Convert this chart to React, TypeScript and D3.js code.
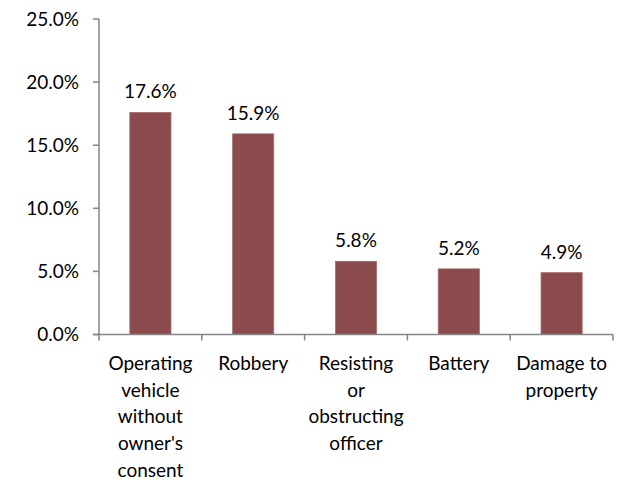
import { useEffect, useRef } from "react";
import * as d3 from "d3";

const categories = [
  "Operating\nvehicle\nwithout\nowner's\nconsent",
  "Robbery",
  "Resisting\nor\nobstructing\nofficer",
  "Battery",
  "Damage to\nproperty",
];
const values = [0.176, 0.159, 0.058, 0.052, 0.049];
const yTicks = [0, 0.05, 0.1, 0.15, 0.2, 0.25];

export default function App() {
  const svgRef = useRef<SVGSVGElement>(null);

  useEffect(() => {
    if (!svgRef.current) return;
    const svg = d3.select(svgRef.current);
    svg.selectAll("*").remove();

    const font = "Lato, 'Open Sans', sans-serif";
    const fontSize = "19px";
    const axisColor = "#868686";
    const left = 99;
    const right = 613;
    const top = 19;
    const bottom = 334.5;

    const x = d3
      .scaleBand<string>()
      .domain(categories)
      .range([left, right])
      .paddingInner(0.6)
      .paddingOuter(0.3);
    const step = x.step();

    const y = d3.scaleLinear().domain([0, 0.25]).range([bottom, top]);
    const fmt = d3.format(".1%");

    // y axis
    svg
      .append("line")
      .attr("x1", left)
      .attr("x2", left)
      .attr("y1", top)
      .attr("y2", bottom)
      .attr("stroke", axisColor)
      .attr("stroke-width", 1.5);

    yTicks.forEach((t) => {
      svg
        .append("line")
        .attr("x1", left - 6)
        .attr("x2", left)
        .attr("y1", y(t))
        .attr("y2", y(t))
        .attr("stroke", axisColor)
        .attr("stroke-width", 1.5);
      svg
        .append("text")
        .attr("x", left - 20)
        .attr("y", y(t))
        .attr("dy", "0.35em")
        .attr("text-anchor", "end")
        .attr("font-family", font)
        .attr("font-size", fontSize)
        .attr("fill", "#000")
        .text(fmt(t));
    });

    // bars
    svg
      .selectAll("rect.bar")
      .data(values)
      .enter()
      .append("rect")
      .attr("class", "bar")
      .attr("x", (_, i) => x(categories[i])!)
      .attr("width", x.bandwidth())
      .attr("y", (d) => y(d))
      .attr("height", (d) => bottom - y(d))
      .attr("fill", "#8b4a4c")
      .attr("stroke", "#a66a6b")
      .attr("stroke-width", 0.8);

    // data labels
    values.forEach((v, i) => {
      svg
        .append("text")
        .attr("x", x(categories[i])! + x.bandwidth() / 2)
        .attr("y", y(v) - 14)
        .attr("text-anchor", "middle")
        .attr("font-family", font)
        .attr("font-size", fontSize)
        .attr("fill", "#000")
        .text(fmt(v));
    });

    // x axis
    svg
      .append("line")
      .attr("x1", left - 6)
      .attr("x2", right)
      .attr("y1", bottom)
      .attr("y2", bottom)
      .attr("stroke", axisColor)
      .attr("stroke-width", 1.5);

    d3.range(categories.length + 1).forEach((i) => {
      const tx = left + i * step;
      svg
        .append("line")
        .attr("x1", tx)
        .attr("x2", tx)
        .attr("y1", bottom)
        .attr("y2", bottom + 6)
        .attr("stroke", axisColor)
        .attr("stroke-width", 1.5);
    });

    categories.forEach((c) => {
      const t = svg
        .append("text")
        .attr("x", x(c)! + x.bandwidth() / 2)
        .attr("y", 370)
        .attr("text-anchor", "middle")
        .attr("font-family", font)
        .attr("font-size", fontSize)
        .attr("fill", "#000");
      c.split("\n").forEach((line, j) => {
        t.append("tspan")
          .attr("x", x(c)! + x.bandwidth() / 2)
          .attr("dy", j === 0 ? 0 : 26.7)
          .text(line);
      });
    });
  }, []);

  return (
    <svg
      ref={svgRef}
      width={630}
      height={482}
      style={{ position: "absolute", left: 0, top: 0 }}
    ></svg>
  );
}
